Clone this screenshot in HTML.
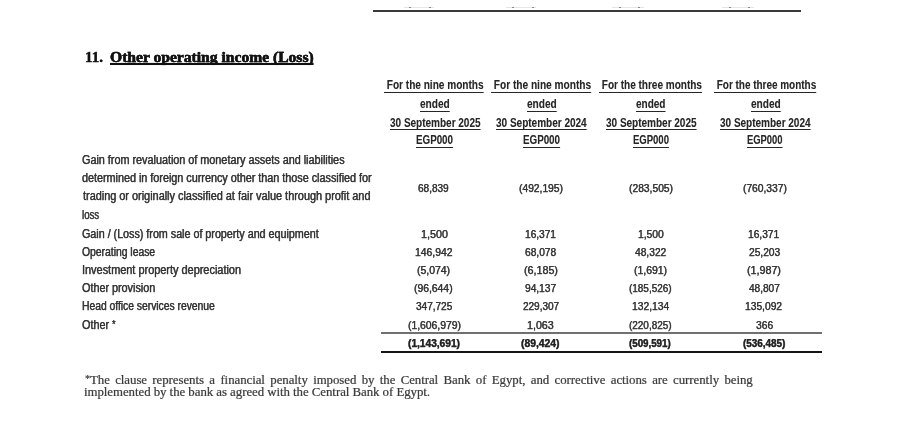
<!DOCTYPE html>
<html><head><meta charset="utf-8"><title>Other operating income (Loss)</title>
<style>
html,body{margin:0;padding:0;background:#fff;}
body{width:900px;height:447px;position:relative;overflow:hidden;}
.t{position:absolute;white-space:nowrap;line-height:20px;transform-origin:0 50%;-webkit-text-stroke:0.25px currentColor;text-shadow:0.45px 0 0 rgba(60,60,60,.35),-0.3px 0 0 rgba(60,60,60,.2),0 0.45px 0 rgba(60,60,60,.25),0 -0.45px 0 rgba(60,60,60,.2);}
.wrap{position:absolute;left:0;top:0;width:900px;height:447px;will-change:transform;}
.r{position:absolute;}
.u{text-decoration:underline;text-decoration-thickness:1px;text-underline-offset:2.5px;text-decoration-skip-ink:none;}
.u3{text-decoration:underline;text-decoration-thickness:1px;text-underline-offset:2px;text-decoration-skip-ink:none;}
.ut{text-decoration:underline;text-decoration-thickness:1.5px;text-underline-offset:1px;text-decoration-skip-ink:none;}
</style></head><body><div class="wrap">
<div class="t" id="e0" style="left:85.02px;top:46.97px;font-family:'Liberation Serif', 'Times New Roman', serif;font-size:15.5px;font-weight:bold;color:#111;transform:scaleX(0.9667);-webkit-text-stroke:0.35px currentColor;">11.</div>
<div class="t" id="e1" style="left:109.59px;top:46.97px;font-family:'Liberation Serif', 'Times New Roman', serif;font-size:15.5px;font-weight:bold;color:#111;transform:scaleX(1.0060);clip-path:inset(0 0 1.77px 0);-webkit-text-stroke:0.35px currentColor;"><span class="ut">Other operating income (Loss)</span></div>
<div class="t" id="e2" style="left:384.27px;top:75.34px;font-family:'Liberation Sans', Arial, sans-serif;font-size:12.0px;font-weight:bold;color:#262626;transform:scaleX(0.8390);text-shadow:0.35px 0 0 rgba(60,60,60,.25);-webkit-text-stroke:0;"><span class="u">&nbsp;For the nine months</span></div>
<div class="t" id="e3" style="left:419.63px;top:94.34px;font-family:'Liberation Sans', Arial, sans-serif;font-size:12.0px;font-weight:bold;color:#262626;transform:scaleX(0.8400);text-shadow:0.35px 0 0 rgba(60,60,60,.25);-webkit-text-stroke:0;"><span class="u">ended</span></div>
<div class="t" id="e4" style="left:389.63px;top:112.84px;font-family:'Liberation Sans', Arial, sans-serif;font-size:12.0px;font-weight:bold;color:#262626;transform:scaleX(0.8324);text-shadow:0.35px 0 0 rgba(60,60,60,.25);-webkit-text-stroke:0;"><span class="u3">30 September 2025</span></div>
<div class="t" id="e5" style="left:415.73px;top:130.44px;font-family:'Liberation Sans', Arial, sans-serif;font-size:12.0px;font-weight:bold;color:#262626;transform:scaleX(0.8159);text-shadow:0.35px 0 0 rgba(60,60,60,.25);-webkit-text-stroke:0;"><span class="u">EGP000</span></div>
<div class="t" id="e6" style="left:490.72px;top:75.34px;font-family:'Liberation Sans', Arial, sans-serif;font-size:12.0px;font-weight:bold;color:#262626;transform:scaleX(0.8434);text-shadow:0.35px 0 0 rgba(60,60,60,.25);-webkit-text-stroke:0;"><span class="u">&nbsp;For the nine months</span></div>
<div class="t" id="e7" style="left:526.55px;top:94.34px;font-family:'Liberation Sans', Arial, sans-serif;font-size:12.0px;font-weight:bold;color:#262626;transform:scaleX(0.8400);text-shadow:0.35px 0 0 rgba(60,60,60,.25);-webkit-text-stroke:0;"><span class="u">ended</span></div>
<div class="t" id="e8" style="left:495.63px;top:112.84px;font-family:'Liberation Sans', Arial, sans-serif;font-size:12.0px;font-weight:bold;color:#262626;transform:scaleX(0.8339);text-shadow:0.35px 0 0 rgba(60,60,60,.25);-webkit-text-stroke:0;"><span class="u3">30 September 2024</span></div>
<div class="t" id="e9" style="left:522.73px;top:130.44px;font-family:'Liberation Sans', Arial, sans-serif;font-size:12.0px;font-weight:bold;color:#262626;transform:scaleX(0.8159);text-shadow:0.35px 0 0 rgba(60,60,60,.25);-webkit-text-stroke:0;"><span class="u">EGP000</span></div>
<div class="t" id="e10" style="left:598.67px;top:75.34px;font-family:'Liberation Sans', Arial, sans-serif;font-size:12.0px;font-weight:bold;color:#262626;transform:scaleX(0.8346);text-shadow:0.35px 0 0 rgba(60,60,60,.25);-webkit-text-stroke:0;"><span class="u">&nbsp;For the three months</span></div>
<div class="t" id="e11" style="left:636.09px;top:94.34px;font-family:'Liberation Sans', Arial, sans-serif;font-size:12.0px;font-weight:bold;color:#262626;transform:scaleX(0.8329);text-shadow:0.35px 0 0 rgba(60,60,60,.25);-webkit-text-stroke:0;"><span class="u">ended</span></div>
<div class="t" id="e12" style="left:605.63px;top:112.84px;font-family:'Liberation Sans', Arial, sans-serif;font-size:12.0px;font-weight:bold;color:#262626;transform:scaleX(0.8324);text-shadow:0.35px 0 0 rgba(60,60,60,.25);-webkit-text-stroke:0;"><span class="u3">30 September 2025</span></div>
<div class="t" id="e13" style="left:632.64px;top:130.44px;font-family:'Liberation Sans', Arial, sans-serif;font-size:12.0px;font-weight:bold;color:#262626;transform:scaleX(0.7922);text-shadow:0.35px 0 0 rgba(60,60,60,.25);-webkit-text-stroke:0;"><span class="u">EGP000</span></div>
<div class="t" id="e14" style="left:713.69px;top:75.34px;font-family:'Liberation Sans', Arial, sans-serif;font-size:12.0px;font-weight:bold;color:#262626;transform:scaleX(0.8283);text-shadow:0.35px 0 0 rgba(60,60,60,.25);-webkit-text-stroke:0;"><span class="u">&nbsp;For the three months</span></div>
<div class="t" id="e15" style="left:750.55px;top:94.34px;font-family:'Liberation Sans', Arial, sans-serif;font-size:12.0px;font-weight:bold;color:#262626;transform:scaleX(0.8400);text-shadow:0.35px 0 0 rgba(60,60,60,.25);-webkit-text-stroke:0;"><span class="u">ended</span></div>
<div class="t" id="e16" style="left:719.71px;top:112.84px;font-family:'Liberation Sans', Arial, sans-serif;font-size:12.0px;font-weight:bold;color:#262626;transform:scaleX(0.8324);text-shadow:0.35px 0 0 rgba(60,60,60,.25);-webkit-text-stroke:0;"><span class="u3">30 September 2024</span></div>
<div class="t" id="e17" style="left:747.09px;top:130.44px;font-family:'Liberation Sans', Arial, sans-serif;font-size:12.0px;font-weight:bold;color:#262626;transform:scaleX(0.7811);text-shadow:0.35px 0 0 rgba(60,60,60,.25);-webkit-text-stroke:0;"><span class="u">EGP000</span></div>
<div class="t" id="e18" style="left:81.85px;top:150.44px;font-family:'Liberation Sans', Arial, sans-serif;font-size:12.0px;font-weight:normal;color:#333;transform:scaleX(0.9007);">Gain from revaluation of monetary assets and liabilities</div>
<div class="t" id="e19" style="left:81.85px;top:168.24px;font-family:'Liberation Sans', Arial, sans-serif;font-size:12.0px;font-weight:normal;color:#333;transform:scaleX(0.8991);">determined in foreign currency other than those classified for</div>
<div class="t" id="e20" style="left:82.75px;top:186.34px;font-family:'Liberation Sans', Arial, sans-serif;font-size:12.0px;font-weight:normal;color:#333;transform:scaleX(0.9073);">trading or originally classified at fair value through profit and</div>
<div class="t" id="e21" style="left:81.91px;top:204.64px;font-family:'Liberation Sans', Arial, sans-serif;font-size:12.0px;font-weight:normal;color:#333;transform:scaleX(0.8048);">loss</div>
<div class="t" id="e22" style="left:81.86px;top:224.04px;font-family:'Liberation Sans', Arial, sans-serif;font-size:12.0px;font-weight:normal;color:#333;transform:scaleX(0.8936);">Gain / (Loss) from sale of property and equipment</div>
<div class="t" id="e23" style="left:81.87px;top:241.94px;font-family:'Liberation Sans', Arial, sans-serif;font-size:12.0px;font-weight:normal;color:#333;transform:scaleX(0.8631);">Operating lease</div>
<div class="t" id="e24" style="left:82.46px;top:260.14px;font-family:'Liberation Sans', Arial, sans-serif;font-size:12.0px;font-weight:normal;color:#333;transform:scaleX(0.9098);">Investment property depreciation</div>
<div class="t" id="e25" style="left:81.85px;top:278.14px;font-family:'Liberation Sans', Arial, sans-serif;font-size:12.0px;font-weight:normal;color:#333;transform:scaleX(0.9000);">Other provision</div>
<div class="t" id="e26" style="left:81.88px;top:296.44px;font-family:'Liberation Sans', Arial, sans-serif;font-size:12.0px;font-weight:normal;color:#333;transform:scaleX(0.8591);">Head office services revenue</div>
<div class="t" id="e27" style="left:81.85px;top:314.94px;font-family:'Liberation Sans', Arial, sans-serif;font-size:12.0px;font-weight:normal;color:#333;transform:scaleX(0.9000);">Other <span style="font-size:10px;vertical-align:1px">*</span></div>
<div class="t" id="e28" style="left:418.00px;top:178.05px;font-family:'Liberation Sans', Arial, sans-serif;font-size:11.4px;font-weight:normal;color:#333;transform:scaleX(0.8786);">68,839</div>
<div class="t" id="e29" style="left:518.52px;top:178.05px;font-family:'Liberation Sans', Arial, sans-serif;font-size:11.4px;font-weight:normal;color:#333;transform:scaleX(0.9010);">(492,195)</div>
<div class="t" id="e30" style="left:628.80px;top:178.05px;font-family:'Liberation Sans', Arial, sans-serif;font-size:11.4px;font-weight:normal;color:#333;transform:scaleX(0.9021);">(283,505)</div>
<div class="t" id="e31" style="left:742.80px;top:178.05px;font-family:'Liberation Sans', Arial, sans-serif;font-size:11.4px;font-weight:normal;color:#333;transform:scaleX(0.8979);">(760,337)</div>
<div class="t" id="e32" style="left:420.61px;top:223.55px;font-family:'Liberation Sans', Arial, sans-serif;font-size:11.4px;font-weight:normal;color:#333;transform:scaleX(0.9429);">1,500</div>
<div class="t" id="e33" style="left:525.06px;top:223.55px;font-family:'Liberation Sans', Arial, sans-serif;font-size:11.4px;font-weight:normal;color:#333;transform:scaleX(0.8897);">16,371</div>
<div class="t" id="e34" style="left:637.90px;top:223.55px;font-family:'Liberation Sans', Arial, sans-serif;font-size:11.4px;font-weight:normal;color:#333;transform:scaleX(0.9037);">1,500</div>
<div class="t" id="e35" style="left:747.91px;top:223.55px;font-family:'Liberation Sans', Arial, sans-serif;font-size:11.4px;font-weight:normal;color:#333;transform:scaleX(0.8941);">16,371</div>
<div class="t" id="e36" style="left:415.09px;top:241.65px;font-family:'Liberation Sans', Arial, sans-serif;font-size:11.4px;font-weight:normal;color:#333;transform:scaleX(0.9100);">146,942</div>
<div class="t" id="e37" style="left:525.18px;top:241.65px;font-family:'Liberation Sans', Arial, sans-serif;font-size:11.4px;font-weight:normal;color:#333;transform:scaleX(0.8943);">68,078</div>
<div class="t" id="e38" style="left:635.00px;top:241.65px;font-family:'Liberation Sans', Arial, sans-serif;font-size:11.4px;font-weight:normal;color:#333;transform:scaleX(0.8971);">48,322</div>
<div class="t" id="e39" style="left:748.86px;top:241.65px;font-family:'Liberation Sans', Arial, sans-serif;font-size:11.4px;font-weight:normal;color:#333;transform:scaleX(0.8941);">25,203</div>
<div class="t" id="e40" style="left:417.23px;top:259.95px;font-family:'Liberation Sans', Arial, sans-serif;font-size:11.4px;font-weight:normal;color:#333;transform:scaleX(0.9171);">(5,074)</div>
<div class="t" id="e41" style="left:523.64px;top:259.95px;font-family:'Liberation Sans', Arial, sans-serif;font-size:11.4px;font-weight:normal;color:#333;transform:scaleX(0.9400);">(6,185)</div>
<div class="t" id="e42" style="left:633.66px;top:259.95px;font-family:'Liberation Sans', Arial, sans-serif;font-size:11.4px;font-weight:normal;color:#333;transform:scaleX(0.9171);">(1,691)</div>
<div class="t" id="e43" style="left:747.44px;top:259.95px;font-family:'Liberation Sans', Arial, sans-serif;font-size:11.4px;font-weight:normal;color:#333;transform:scaleX(0.9400);">(1,987)</div>
<div class="t" id="e44" style="left:414.42px;top:278.05px;font-family:'Liberation Sans', Arial, sans-serif;font-size:11.4px;font-weight:normal;color:#333;transform:scaleX(0.9095);">(96,644)</div>
<div class="t" id="e45" style="left:525.24px;top:278.05px;font-family:'Liberation Sans', Arial, sans-serif;font-size:11.4px;font-weight:normal;color:#333;transform:scaleX(0.8912);">94,137</div>
<div class="t" id="e46" style="left:629.18px;top:278.05px;font-family:'Liberation Sans', Arial, sans-serif;font-size:11.4px;font-weight:normal;color:#333;transform:scaleX(0.8729);">(185,526)</div>
<div class="t" id="e47" style="left:748.80px;top:278.05px;font-family:'Liberation Sans', Arial, sans-serif;font-size:11.4px;font-weight:normal;color:#333;transform:scaleX(0.8829);">48,807</div>
<div class="t" id="e48" style="left:416.00px;top:296.25px;font-family:'Liberation Sans', Arial, sans-serif;font-size:11.4px;font-weight:normal;color:#333;transform:scaleX(0.8805);">347,725</div>
<div class="t" id="e49" style="left:523.00px;top:296.25px;font-family:'Liberation Sans', Arial, sans-serif;font-size:11.4px;font-weight:normal;color:#333;transform:scaleX(0.8780);">229,307</div>
<div class="t" id="e50" style="left:632.05px;top:296.25px;font-family:'Liberation Sans', Arial, sans-serif;font-size:11.4px;font-weight:normal;color:#333;transform:scaleX(0.9024);">132,134</div>
<div class="t" id="e51" style="left:745.28px;top:296.25px;font-family:'Liberation Sans', Arial, sans-serif;font-size:11.4px;font-weight:normal;color:#333;transform:scaleX(0.9000);">135,092</div>
<div class="t" id="e52" style="left:408.05px;top:314.65px;font-family:'Liberation Sans', Arial, sans-serif;font-size:11.4px;font-weight:normal;color:#333;transform:scaleX(0.9088);">(1,606,979)</div>
<div class="t" id="e53" style="left:527.25px;top:314.65px;font-family:'Liberation Sans', Arial, sans-serif;font-size:11.4px;font-weight:normal;color:#333;transform:scaleX(0.9370);">1,063</div>
<div class="t" id="e54" style="left:629.18px;top:314.65px;font-family:'Liberation Sans', Arial, sans-serif;font-size:11.4px;font-weight:normal;color:#333;transform:scaleX(0.8729);">(220,825)</div>
<div class="t" id="e55" style="left:756.47px;top:314.65px;font-family:'Liberation Sans', Arial, sans-serif;font-size:11.4px;font-weight:normal;color:#333;transform:scaleX(0.9000);">366</div>
<div class="t" id="e56" style="left:407.86px;top:332.65px;font-family:'Liberation Sans', Arial, sans-serif;font-size:11.4px;font-weight:bold;color:#222;transform:scaleX(0.8912);">(1,143,691)</div>
<div class="t" id="e57" style="left:521.42px;top:332.65px;font-family:'Liberation Sans', Arial, sans-serif;font-size:11.4px;font-weight:bold;color:#222;transform:scaleX(0.9071);">(89,424)</div>
<div class="t" id="e58" style="left:629.18px;top:332.65px;font-family:'Liberation Sans', Arial, sans-serif;font-size:11.4px;font-weight:bold;color:#222;transform:scaleX(0.8551);">(509,591)</div>
<div class="t" id="e59" style="left:743.00px;top:332.65px;font-family:'Liberation Sans', Arial, sans-serif;font-size:11.4px;font-weight:bold;color:#222;transform:scaleX(0.8673);">(536,485)</div>
<div class="t" id="e60" style="left:85.00px;top:368.61px;font-family:'Liberation Serif', 'Times New Roman', serif;font-size:12.7px;font-weight:normal;color:#3c3c3c;transform:scaleX(1.0030);word-spacing:2.2px;-webkit-text-stroke:0.15px currentColor;text-shadow:0.4px 0 0 rgba(80,80,80,.3);"><span style="font-size:10px;vertical-align:2px">*</span>The clause represents a financial penalty imposed by the Central Bank of Egypt, and corrective actions are currently being</div>
<div class="t" id="e61" style="left:84.19px;top:381.51px;font-family:'Liberation Serif', 'Times New Roman', serif;font-size:12.7px;font-weight:normal;color:#3c3c3c;transform:scaleX(1.0041);-webkit-text-stroke:0.15px currentColor;text-shadow:0.4px 0 0 rgba(80,80,80,.3);">implemented by the bank as agreed with the Central Bank of Egypt.</div>
<div class="r" style="left:373px;top:9.6px;width:428.00px;height:2.00px;background:#3a3a3a"></div>
<div class="r" style="left:404px;top:6.8px;width:30.00px;height:1.00px;background:#e6e6e6"></div>
<div class="r" style="left:506px;top:6.8px;width:30.00px;height:1.00px;background:#e6e6e6"></div>
<div class="r" style="left:612px;top:6.8px;width:32.00px;height:1.00px;background:#e6e6e6"></div>
<div class="r" style="left:722px;top:6.8px;width:32.00px;height:1.00px;background:#e6e6e6"></div>
<div class="r" style="left:409px;top:6.6px;width:2.20px;height:1.60px;background:#8a8a8a"></div>
<div class="r" style="left:428.5px;top:6.6px;width:2.20px;height:1.60px;background:#8a8a8a"></div>
<div class="r" style="left:512px;top:6.6px;width:2.20px;height:1.60px;background:#8a8a8a"></div>
<div class="r" style="left:531.5px;top:6.6px;width:2.20px;height:1.60px;background:#8a8a8a"></div>
<div class="r" style="left:618.5px;top:6.6px;width:2.20px;height:1.60px;background:#8a8a8a"></div>
<div class="r" style="left:637.5px;top:6.6px;width:2.20px;height:1.60px;background:#8a8a8a"></div>
<div class="r" style="left:728.5px;top:6.6px;width:2.20px;height:1.60px;background:#8a8a8a"></div>
<div class="r" style="left:747.5px;top:6.6px;width:2.20px;height:1.60px;background:#8a8a8a"></div>
<div class="r" style="left:380.5px;top:332.2px;width:441.50px;height:1.40px;background:#707070"></div>
<div class="r" style="left:380.5px;top:350.6px;width:441.50px;height:2.20px;background:#151515"></div>
</div></body></html>
